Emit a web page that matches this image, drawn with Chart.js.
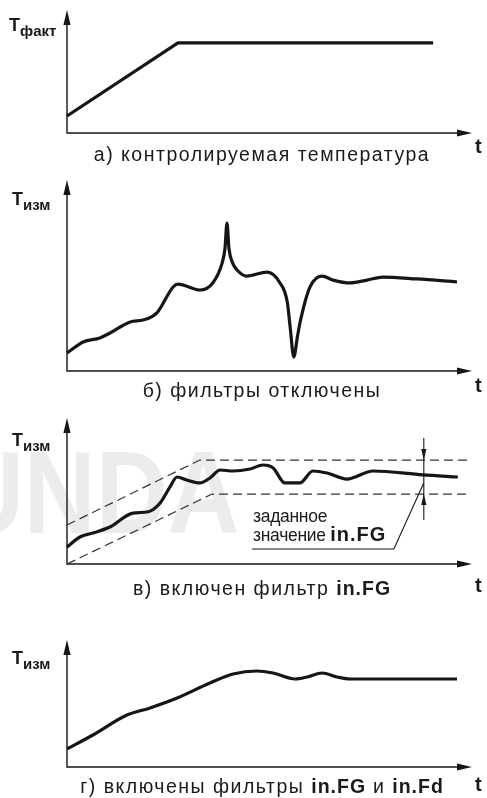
<!DOCTYPE html>
<html>
<head>
<meta charset="utf-8">
<script src="https://cdn.jsdelivr.net/npm/chart.js@4.4.1/dist/chart.umd.min.js"></script>
<style>
    body { margin: 0; background: #fff; }
    #page { position: relative; width: 487px; height: 798px; overflow: hidden; font-family: "Liberation Sans", Arial, sans-serif; color: #1a1a1a; }
    #page canvas { position: absolute; left: 0; }
    .wm { position: absolute; left: -48px; top: 434px; font: bold 117px "Liberation Sans", Arial, sans-serif; color: #ececec; transform: scaleX(0.85); transform-origin: left top; white-space: nowrap; line-height: 117px; }
    .ylab { position: absolute; font-weight: bold; font-size: 18px; line-height: 18px; white-space: nowrap; }
    .ylab span { font-size: 15px; position: relative; top: 5px; }
    .tlab { position: absolute; left: 475px; font-weight: bold; font-size: 20px; line-height: 20px; }
    .cap { position: absolute; left: 0; width: 524px; text-align: center; font-size: 19.5px; line-height: 19px; white-space: nowrap; letter-spacing: 1.5px; }
    .cap b { letter-spacing: 1px; }
    .note { position: absolute; left: 253px; font-size: 17.5px; line-height: 18px; white-space: nowrap; letter-spacing: -0.3px; }
    .note b { font-size: 20px; letter-spacing: 1px; }
</style>
</head>
<body>
<div id="page">
    <div class="wm">UNDA</div>

    <canvas id="chartA" width="487" height="135" style="top:4px"></canvas>
    <canvas id="chartB" width="487" height="203" style="top:174px"></canvas>
    <canvas id="chartV" width="487" height="158" style="top:412px"></canvas>
    <canvas id="chartG" width="487" height="139" style="top:634px"></canvas>

    <div class="ylab" style="left:9px;top:16px">Т<span>факт</span></div>
    <div class="ylab" style="left:12px;top:190px">Т<span>изм</span></div>
    <div class="ylab" style="left:12px;top:431px">Т<span>изм</span></div>
    <div class="ylab" style="left:12px;top:649px">Т<span>изм</span></div>

    <div class="tlab" style="top:136px">t</div>
    <div class="tlab" style="top:375px">t</div>
    <div class="tlab" style="top:575px">t</div>
    <div class="tlab" style="top:774px">t</div>

    <div class="cap" style="top:145px">а) контролируемая температура</div>
    <div class="cap" style="top:381px">б) фильтры отключены</div>
    <div class="cap" style="top:579px">в) включен фильтр <b>in.FG</b></div>
    <div class="cap" style="top:777px">г) включены фильтры <b>in.FG</b> и <b>in.Fd</b></div>

    <div class="note" style="top:507px">заданное</div>
    <div class="note" style="top:525px">значение <b>in.FG</b></div>
</div>

<script>
// а) actual temperature (ramp then plateau)
const tA = [0, 27.4, 90.4];
const TA = [13.8, 73.2, 73.2];

// б) measured, no filters
const tB = [0, 4.0, 8.1, 10.6, 15.6, 18.8, 22.2, 26.2, 27.4, 32.8, 36.0, 38.3, 39.0, 39.5, 40.0, 40.8, 42.0, 44.4, 49.4, 52.6,
    54.4, 55.1, 56.0, 56.9, 57.5, 60.0, 63.0, 65.7, 69.9, 74.1, 78.0, 86.4, 96.3];
const TB = [9.4, 15.2, 17.3, 19.9, 25.7, 26.7, 30.4, 44.0, 45.5, 42.4, 46.1, 56.5, 64.0, 77.5, 64.0, 57.0, 52.9, 49.7, 51.8, 46.1,
    36.0, 23.0, 7.3, 18.0, 25.0, 44.0, 49.7, 47.6, 46.1, 47.6, 49.2, 48.2, 46.6];

// в) measured, in.FG filter on
const tV = [0, 3.2, 6.4, 10.6, 16.3, 19.8, 23.0, 25.4, 27.2, 29.6, 32.8, 35.3, 37.8, 41.0, 45.2, 48.4, 50.9, 53.8, 57.5, 60.7,
    64.2, 69.1, 75.6, 87.9, 96.5];
const TV = [11.6, 18.5, 21.2, 25.3, 34.9, 35.6, 41.8, 52.7, 59.6, 57.5, 55.5, 58.9, 64.4, 63.7, 65.1, 67.8, 65.8, 55.5, 55.5, 63.7,
    62.3, 58.2, 63.7, 61.0, 59.6];
// filter band (dashed)
const tBandUp = [0, 32.8, 98.8];
const TBandUp = [26.7, 71.2, 71.2];
const tBandLow = [0, 35.8, 98.8];
const TBandLow = [0, 47.9, 47.9];
// leader from the note to the band marker
const tLeader = [45.7, 80.7, 88.1];
const TLeader = [10.3, 10.3, 55.5];
const markT = 88.1;
const markTop = 86.3;
const markBottom = 30.1;

// г) measured, in.FG and in.Fd on
const tG = [0, 6.4, 14.8, 20.5, 27.2, 35.3, 41.0, 46.9, 50.9, 56.3, 59.3, 63.0, 66.7, 69.9, 80.5, 96.3];
const TG = [14.2, 25.2, 40.9, 46.5, 54.3, 66.1, 73.2, 75.6, 74.0, 69.3, 70.9, 74.0, 70.9, 69.3, 69.3, 69.3];

const INK = '#161616';

function pts(xs, ys) {
    return xs.map((x, i) => ({ x: x, y: ys[i] }));
}

function arrowHead(ctx, x, y, dx, dy, len, half) {
    // dx,dy = unit direction the arrow points to
    ctx.beginPath();
    ctx.moveTo(x, y);
    ctx.lineTo(x - dx * len - dy * half, y - dy * len + dx * half);
    ctx.lineTo(x - dx * len + dy * half, y - dy * len - dx * half);
    ctx.closePath();
    ctx.fill();
}

// axes with arrows, drawn from the chart area
const axesPlugin = {
    id: 'axesArrows',
    beforeDatasetsDraw(chart) {
        const ctx = chart.ctx;
        const a = chart.chartArea;
        ctx.save();
        ctx.strokeStyle = INK;
        ctx.fillStyle = INK;
        ctx.lineWidth = 1.4;
        ctx.beginPath();
        ctx.moveTo(a.left, a.top + 6);
        ctx.lineTo(a.left, a.bottom);
        ctx.lineTo(a.right - 6, a.bottom);
        ctx.stroke();
        arrowHead(ctx, a.right, a.bottom, 1, 0, 15, 3.6);
        arrowHead(ctx, a.left, a.top, 0, -1, 15, 3.6);
        ctx.restore();
    }
};

// band width marker for panel в
const markPlugin = {
    id: 'bandMark',
    afterDatasetsDraw(chart) {
        if (!chart.options.plugins.bandMark) return;
        const ctx = chart.ctx;
        const x = chart.scales.x.getPixelForValue(markT);
        const y = chart.scales.y;
        ctx.save();
        ctx.strokeStyle = INK;
        ctx.fillStyle = INK;
        ctx.lineWidth = 1.1;
        ctx.beginPath();
        ctx.moveTo(x, y.getPixelForValue(markTop));
        ctx.lineTo(x, y.getPixelForValue(markBottom));
        ctx.stroke();
        arrowHead(ctx, x, y.getPixelForValue(TBandUp[2]), 0, 1, 11, 2.6);
        arrowHead(ctx, x, y.getPixelForValue(TBandLow[2]), 0, -1, 11, 2.6);
        ctx.restore();
    }
};

function curve(data, opts) {
    return Object.assign({
        data: data,
        borderColor: INK,
        borderWidth: 3.2,
        pointRadius: 0,
        fill: false,
        tension: 0,
        clip: false
    }, opts || {});
}

function makePanel(id, datasets, mark) {
    new Chart(document.getElementById(id), {
        type: 'line',
        data: { datasets: datasets },
        options: {
            responsive: false,
            animation: false,
            events: [],
            layout: { padding: { left: 67, right: 15, top: 6, bottom: 6 } },
            scales: {
                x: { type: 'linear', min: 0, max: 100, display: false },
                y: { type: 'linear', min: 0, max: 100, display: false }
            },
            plugins: {
                legend: { display: false },
                tooltip: { enabled: false },
                bandMark: mark || false
            }
        },
        plugins: [axesPlugin, markPlugin]
    });
}

// а
makePanel('chartA', [
    curve(pts(tA, TA), { borderJoinStyle: 'miter' })
]);

// б
makePanel('chartB', [
    curve(pts(tB, TB), { cubicInterpolationMode: 'monotone' })
]);

// в
makePanel('chartV', [
    curve(pts(tBandUp, TBandUp), { borderWidth: 1.2, borderDash: [9, 5], borderColor: '#333' }),
    curve(pts(tBandLow, TBandLow), { borderWidth: 1.2, borderDash: [9, 5], borderColor: '#333' }),
    curve(pts(tLeader, TLeader), { borderWidth: 1.1 }),
    curve(pts(tV, TV), { cubicInterpolationMode: 'monotone' })
], true);

// г
makePanel('chartG', [
    curve(pts(tG, TG), { cubicInterpolationMode: 'monotone' })
]);
</script>
</body>
</html>
